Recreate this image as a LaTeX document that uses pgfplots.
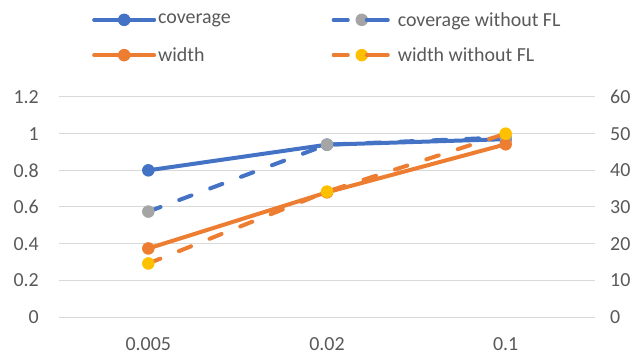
\documentclass[border=0pt]{standalone}
\usepackage{fontspec}
\setmainfont{Carlito}
\usepackage{pgfplots}
\pgfplotsset{compat=1.18}

\definecolor{cblue}{RGB}{68,114,196}
\definecolor{corange}{RGB}{237,125,49}
\definecolor{cgrey}{RGB}{165,165,165}
\definecolor{cyellow}{RGB}{255,192,0}
\definecolor{gridgray}{RGB}{217,217,217}
\definecolor{textgray}{RGB}{89,89,89}

\newcommand{\lblfont}{\fontsize{20}{24}\selectfont}

% shared look of both axes
\pgfplotsset{
  basestyle/.style={
    scale only axis, width=536bp, height=220bp,
    xmin=-0.5, xmax=2.5,
    axis line style={draw=none}, major tick style={draw=none},
    tick label style={font=\lblfont, text=textgray},
  },
  serie/.style={line width=4bp, color=#1, line cap=round, line join=round},
  dashedserie/.style={serie=#1, dash pattern=on 13bp off 20bp},
  dot/.style={mark=*, mark size=5.75bp, mark options={solid, draw=#1, fill=#1, line width=1bp}},
  solidimg/.style={legend image code/.code={
      \draw[##1, mark=none] (0bp,0bp) -- (60bp,0bp);
      \draw[##1, only marks] plot coordinates {(30bp,0bp)};
  }},
  dashimg/.style={legend image code/.code={
      \draw[##1, solid, mark=none] (0bp,0bp) -- (14bp,0bp);
      \draw[##1, solid, mark=none] (40bp,0bp) -- (54bp,0bp);
      \draw[##1, only marks] plot coordinates {(28bp,0bp)};
      \path (0bp,0bp) -- (60bp,0bp);
  }},
}

\begin{document}
\begin{tikzpicture}
\useasboundingbox (-59bp,-39bp) rectangle (575bp,317bp);

% left axis: coverage
\begin{axis}[
  basestyle,
  ymin=0, ymax=1.2,
  xtick={0,1,2}, xticklabels={0.005,0.02,0.1},
  ytick={0,0.2,0.4,0.6,0.8,1,1.2},
  yticklabels={0,0.2,0.4,0.6,0.8,1,1.2},
  ymajorgrids, grid style={gridgray, line width=1bp},
  xticklabel style={anchor=north, inner sep=0pt, yshift=-20bp},
  yticklabel style={anchor=east, inner sep=0pt, xshift=-20bp},
  clip=false,
]
\addplot[serie=cblue, dot=cblue] coordinates {(0,0.80) (1,0.94) (2,0.97)};
\addplot[dashedserie=cblue, dot=cgrey] coordinates {(0,0.575) (1,0.94) (2,0.98)};
\end{axis}

% right axis: width
\begin{axis}[
  basestyle,
  ymin=0, ymax=60,
  axis y line*=right, axis x line=none,
  ytick={0,10,20,30,40,50,60},
  yticklabels={0,10,20,30,40,50,60},
  yticklabel style={anchor=west, inner sep=0pt, xshift=15bp},
  clip=false,
  legend columns=2,
  legend style={
    draw=none, fill=none, font=\lblfont, text=textgray,
    at={(axis description cs:0.0634,1.0)}, anchor=south west,
    xshift=-4bp, yshift=30bp,
    row sep=16bp,
    /tikz/every even column/.append style={column sep=99bp},
  },
  legend cell align=left,
]
\addlegendimage{serie=cblue, dot=cblue, solidimg}
\addlegendentry{coverage}
\addlegendimage{dashedserie=cblue, dot=cgrey, dashimg}
\addlegendentry{coverage without FL}
\addlegendimage{serie=corange, dot=corange, solidimg}
\addlegendentry{width}
\addlegendimage{dashedserie=corange, dot=cyellow, dashimg}
\addlegendentry{width without FL}

\addplot[serie=corange, dot=corange, forget plot] coordinates {(0,18.7) (1,34.0) (2,47.1)};
\addplot[dashedserie=corange, dot=cyellow, forget plot] coordinates {(0,14.6) (1,34.2) (2,50)};
\end{axis}
\end{tikzpicture}
\end{document}
